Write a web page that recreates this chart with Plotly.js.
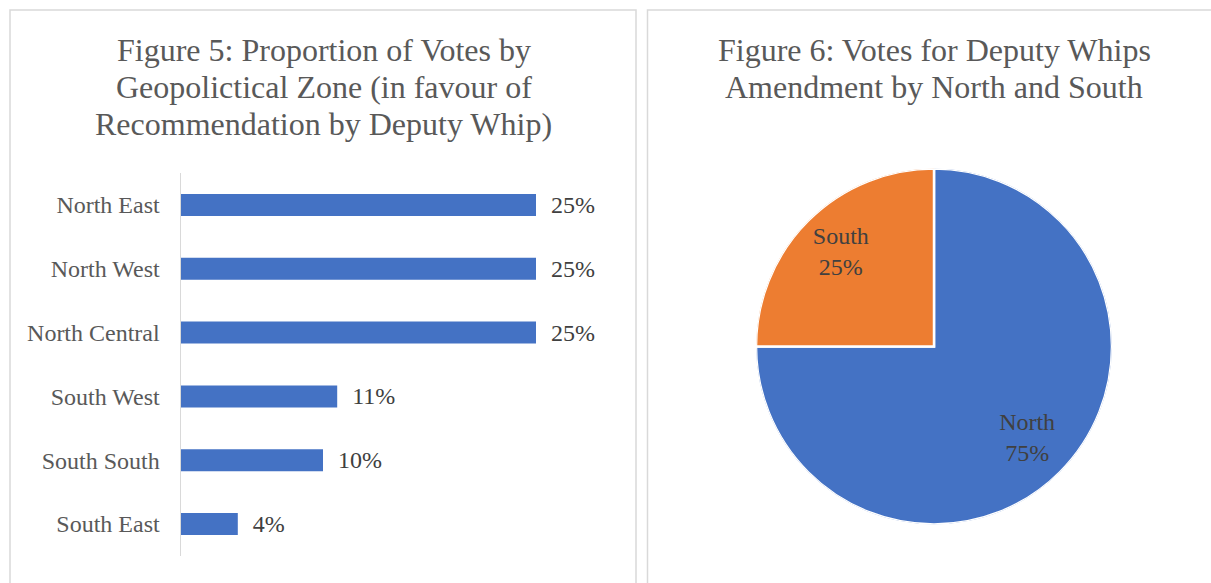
<!DOCTYPE html>
<html>
<head>
<meta charset="utf-8">
<script src="https://cdn.plot.ly/plotly-3.0.1.min.js"></script>
<style>html,body{margin:0;padding:0;background:#fff;}#chart{width:1211px;height:583px;}</style>
</head>
<body>
<div id="chart"></div>
<script>
const zones = ["North East", "North West", "North Central", "South West", "South South", "South East"];
const zoneShares = [25, 25, 25, 11, 10, 4];
const regions = ["North", "South"];
const regionShares = [75, 25];
const title5Lines = ["Figure 5: Proportion of Votes by", "Geopolictical Zone (in favour of", "Recommendation by Deputy Whip)"];
const title6Lines = ["Figure 6: Votes for Deputy Whips", "Amendment by North and South"];

const W = 1211, H = 583;
const px = x => x / W;
const py = y => 1 - y / H;
const FONT = "Liberation Serif, Times New Roman, serif";

// pie slices as polar wedges (clockwise from 12 o'clock), derived from the shares
const total = regionShares.reduce((a, b) => a + b, 0);
const sliceWidth = regionShares.map(v => v / total * 360);
const sliceMid = [];
let acc = 0;
sliceWidth.forEach(w => { sliceMid.push(acc + w / 2); acc += w; });

const bar = {
  type: "bar",
  orientation: "h",
  y: zones,
  x: zoneShares,
  marker: {color: "#4472C4"},
  text: zoneShares.map(v => "\u00a0\u00a0" + v + "%"),
  textposition: "outside",
  constraintext: "none",
  textfont: {family: FONT, size: 24, color: "#404040"},
  cliponaxis: false,
  hoverinfo: "none",
  xaxis: "x", yaxis: "y"
};

const wedges = {
  type: "barpolar",
  subplot: "polar",
  r: regionShares.map(() => 1),
  theta: sliceMid,
  width: sliceWidth,
  marker: {color: ["#4472C4", "#ED7D31"], line: {color: "#ffffff", width: 2.5}},
  hoverinfo: "none",
  showlegend: false
};

const sliceText = {
  type: "scatterpolar",
  subplot: "polar",
  mode: "text",
  r: regionShares.map(() => 0.74),
  theta: sliceMid,
  text: regions.map((n, i) => n + "<br>" + Math.round(regionShares[i] / total * 100) + "%"),
  textfont: {family: FONT, size: 24, color: "#404040"},
  textposition: "middle center",
  hoverinfo: "none",
  showlegend: false
};

const titleAnn = (lines, cx) => lines.map((t, i) => ({
  text: t, xref: "paper", yref: "paper", x: px(cx), y: py(29.6 + 37 * i),
  xanchor: "center", yanchor: "top", showarrow: false,
  font: {family: FONT, size: 32, color: "#595959"}
}));

const layout = {
  width: W, height: H,
  margin: {l: 0, r: 0, t: 0, b: 0},
  paper_bgcolor: "#ffffff",
  plot_bgcolor: "rgba(0,0,0,0)",
  showlegend: false,
  bargap: 0.655,
  xaxis: {
    domain: [px(181), px(607)],
    range: [0, 30],
    visible: false,
    fixedrange: true
  },
  yaxis: {
    domain: [py(556), py(173)],
    type: "category",
    categoryorder: "array",
    categoryarray: zones,
    autorange: "reversed",
    showline: true,
    linecolor: "#D9D9D9",
    linewidth: 1.5,
    showgrid: false,
    zeroline: false,
    ticks: "",
    ticklabelstandoff: 15,
    tickfont: {family: FONT, size: 24, color: "#595959"},
    fixedrange: true
  },
  polar: {
    domain: {x: [px(756), px(1112)], y: [py(525), py(168)]},
    bgcolor: "rgba(0,0,0,0)",
    hole: 0,
    radialaxis: {visible: false, range: [0, 1]},
    angularaxis: {visible: false, rotation: 90, direction: "clockwise"}
  },
  annotations: titleAnn(title5Lines, 323.5).concat(titleAnn(title6Lines, 934)),
  shapes: [
    {type: "rect", xref: "paper", yref: "paper", x0: px(10), x1: px(636), y0: py(600), y1: py(10),
     line: {color: "#D9D9D9", width: 1.5}},
    {type: "rect", xref: "paper", yref: "paper", x0: px(647.5), x1: px(1230), y0: py(600), y1: py(10),
     line: {color: "#D9D9D9", width: 1.5}}
  ]
};

Plotly.newPlot("chart", [bar, wedges, sliceText], layout, {displayModeBar: false, staticPlot: true});
</script>
</body>
</html>
